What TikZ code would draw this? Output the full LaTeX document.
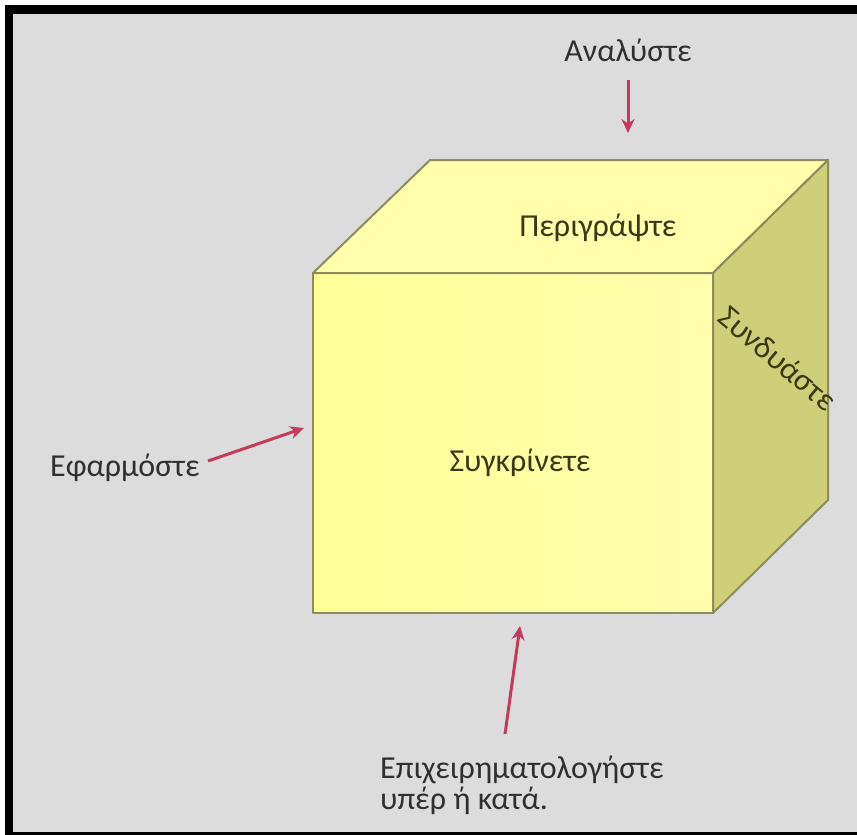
\documentclass[tikz,border=0pt]{standalone}
\usepackage{fontspec}
\setmainfont{Carlito}
\usetikzlibrary{arrows.meta}
\definecolor{bgc}{HTML}{DCDCDC}
\definecolor{frontc}{HTML}{FFFF99}
\definecolor{topc}{HTML}{FFFFAC}
\definecolor{sidec}{HTML}{CFCF7A}
\definecolor{edgec}{HTML}{8C8C5E}
\definecolor{arrc}{HTML}{C23B5B}
\definecolor{txtc}{HTML}{303030}
\definecolor{cubetxt}{HTML}{3A3A12}
\begin{document}
\begin{tikzpicture}[x=1pt,y=-1pt,
  face/.style={draw=edgec,line width=2pt,line join=round},
  lbl/.style={font=\fontsize{32}{36}\selectfont,text=txtc,inner sep=0pt},
  cubelbl/.style={font=\fontsize{32}{36}\selectfont,text=cubetxt,inner sep=0pt},
  arr/.style={draw=arrc,line width=3pt,-{Stealth[length=14pt,width=13pt]}}]
\useasboundingbox (0,0) rectangle (857,835);
\fill[white] (0,0) rectangle (857,835);
\fill[black] (5,5) rectangle (857,835);
\fill[bgc] (13,14) rectangle (857,832);
% cube
\coordinate (f1) at (313,273);
\coordinate (f2) at (713,273);
\coordinate (f3) at (713,613);
\coordinate (f4) at (313,613);
\coordinate (b1) at (430,160);
\coordinate (b2) at (828,160);
\coordinate (b3) at (828,500);
\path[face,left color=frontc,right color=frontc!80!white] (f1) -- (f2) -- (f3) -- (f4) -- cycle;
\path[face,fill=topc] (f1) -- (b1) -- (b2) -- (f2) -- cycle;
\path[face,fill=sidec] (f2) -- (b2) -- (b3) -- (f3) -- cycle;
\node[cubelbl] (top) at (598,228) {Περιγράψτε};
\node[cubelbl] (front) at (520,463) {Συγκρίνετε};
\node[cubelbl,rotate=-40] (side) at (778,358) {Συνδυάστε};
% labels
\node[lbl] (analyse) at (628,50) {Αναλύστε};
\node[lbl,anchor=west] (apply) at (50,468) {Εφαρμόστε};
\node[lbl,anchor=north west,align=left,font=\fontsize{32}{31}\selectfont] (argue) at (380,756) {Επιχειρηματολογήστε\\υπέρ ή κατά.};
% arrows
\coordinate (a1s) at (628,80);
\coordinate (a1e) at (628,133);
\coordinate (a2s) at (208,461);
\coordinate (a2e) at (304,428);
\coordinate (a3s) at (505,734);
\coordinate (a3e) at (520,626);
\draw[arr] (a1s) -- (a1e);
\draw[arr] (a2s) -- (a2e);
\draw[arr] (a3s) -- (a3e);
\end{tikzpicture}
\end{document}
